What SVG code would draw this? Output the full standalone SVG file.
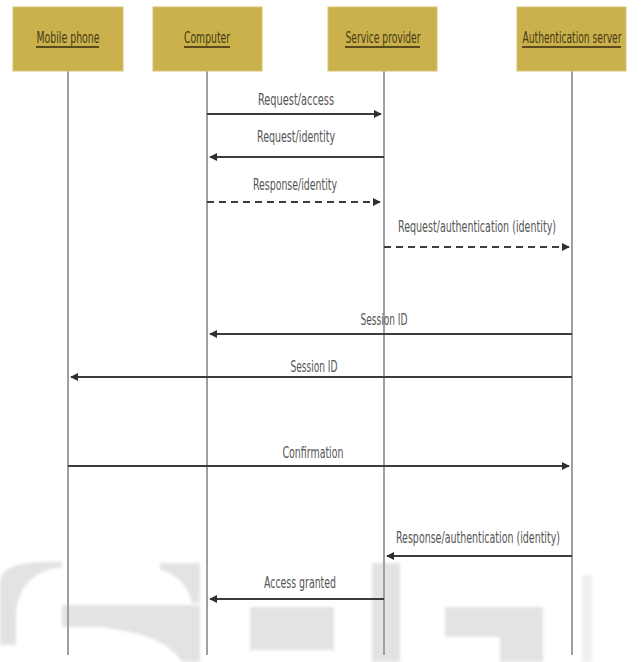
<svg xmlns="http://www.w3.org/2000/svg" width="643" height="662" viewBox="0 0 643 662">
  <defs>
    <style>
      .box { fill: #CAB14B; stroke: #D6C277; stroke-width: 1; }
      .hdr { font-family: "Liberation Sans Narrow", "DejaVu Sans Condensed", "Liberation Sans", sans-serif; font-stretch: condensed; font-size: 16px; fill: #463B18; text-anchor: middle; }
      .uline { stroke: #5A4B1E; stroke-width: 2; }
      .life { stroke: #A0A0A0; stroke-width: 2; fill: none; }
      .msg { stroke: #3C3C3C; stroke-width: 2; fill: none; }
      .dash { stroke-dasharray: 7 5; }
      .lbl { font-family: "Liberation Sans Narrow", "DejaVu Sans Condensed", "Liberation Sans", sans-serif; font-stretch: condensed; font-size: 15px; fill: #555555; text-anchor: middle; }
      .wm { fill: #E3E3E3; }
    </style>
    <filter id="soft" x="-10%" y="-10%" width="120%" height="120%">
      <feGaussianBlur stdDeviation="1.5"/>
    </filter>
    <marker id="ah" viewBox="0 0 10 10" refX="9" refY="5" markerWidth="8" markerHeight="8" markerUnits="userSpaceOnUse" orient="auto">
      <path d="M0,0 L10,5 L0,10 Z" fill="#2E2E2E"/>
    </marker>
  </defs>

  <rect x="0" y="0" width="643" height="662" fill="#FFFFFF"/>

  <!-- faint background watermark -->
  <g id="watermark" filter="url(#soft)">
    <path class="wm" d="M0 580 Q4 563 40 562 L62 562 L62 567 Q20 572 16 612 L16 645 L0 645 Z"/>
    <path class="wm" d="M160 563 L200 563 L200 603 L192 603 Q186 578 160 569 Z"/>
    <rect class="wm" x="62" y="605" width="138" height="22"/>
    <path class="wm" d="M100 627 L200 627 L200 662 L182 662 Q168 640 130 632 Z"/>
    <rect class="wm" x="250" y="607" width="84" height="43"/>
    <rect class="wm" x="372" y="563" width="28" height="99"/>
    <rect class="wm" x="445" y="607" width="98" height="30"/>
    <rect class="wm" x="500" y="637" width="43" height="25"/>
    <rect x="582" y="575" width="10" height="87" fill="#F0F0F0"/>
  </g>

  <!-- lifelines -->
  <g id="lifelines">
    <line class="life" x1="68" y1="71" x2="68" y2="655"/>
    <line class="life" x1="207" y1="71" x2="207" y2="655"/>
    <line class="life" x1="384" y1="71" x2="384" y2="655"/>
    <line class="life" x1="572" y1="71" x2="572" y2="655"/>
  </g>

  <g id="mobile-phone">
    <rect class="box" x="13" y="7" width="110" height="64"/>
    <text class="hdr" x="68" y="43" textLength="63" lengthAdjust="spacingAndGlyphs">Mobile phone</text>
    <line class="uline" x1="36" y1="47" x2="99" y2="47"/>
  </g>
  <g id="computer">
    <rect class="box" x="153" y="7" width="109" height="64"/>
    <text class="hdr" x="207" y="43" textLength="46" lengthAdjust="spacingAndGlyphs">Computer</text>
    <line class="uline" x1="184" y1="47" x2="230" y2="47"/>
  </g>
  <g id="service-provider">
    <rect class="box" x="328" y="7" width="109" height="64"/>
    <text class="hdr" x="383" y="43" textLength="75" lengthAdjust="spacingAndGlyphs">Service provider</text>
    <line class="uline" x1="345" y1="47" x2="420" y2="47"/>
  </g>
  <g id="authentication-server">
    <rect class="box" x="517" y="7" width="109" height="64"/>
    <text class="hdr" x="572" y="43" textLength="99" lengthAdjust="spacingAndGlyphs">Authentication server</text>
    <line class="uline" x1="522" y1="47" x2="621" y2="47"/>
  </g>

  <!-- connectors -->
  <g id="connectors">
    <line class="msg" x1="207" y1="114" x2="381" y2="114" marker-end="url(#ah)"/>
    <line class="msg" x1="384" y1="157" x2="210" y2="157" marker-end="url(#ah)"/>
    <line class="msg dash" x1="207" y1="202" x2="380" y2="202" marker-end="url(#ah)"/>
    <line class="msg dash" x1="384" y1="247" x2="569" y2="247" marker-end="url(#ah)"/>
    <line class="msg" x1="572" y1="334" x2="210" y2="334" marker-end="url(#ah)"/>
    <line class="msg" x1="572" y1="377" x2="71" y2="377" marker-end="url(#ah)"/>
    <line class="msg" x1="68" y1="466" x2="569" y2="466" marker-end="url(#ah)"/>
    <line class="msg" x1="572" y1="556" x2="387" y2="556" marker-end="url(#ah)"/>
    <line class="msg" x1="384" y1="599" x2="210" y2="599" marker-end="url(#ah)"/>
  </g>

  <g id="labels">
    <text class="lbl" x="296" y="105" textLength="76" lengthAdjust="spacingAndGlyphs">Request/access</text>
    <text class="lbl" x="296" y="142" textLength="78" lengthAdjust="spacingAndGlyphs">Request/identity</text>
    <text class="lbl" x="295" y="190" textLength="84" lengthAdjust="spacingAndGlyphs">Response/identity</text>
    <text class="lbl" x="477" y="232" textLength="158" lengthAdjust="spacingAndGlyphs">Request/authentication (identity)</text>
    <text class="lbl" x="384" y="325" textLength="47" lengthAdjust="spacingAndGlyphs">Session ID</text>
    <text class="lbl" x="314" y="372" textLength="47" lengthAdjust="spacingAndGlyphs">Session ID</text>
    <text class="lbl" x="313" y="458" textLength="61" lengthAdjust="spacingAndGlyphs">Confirmation</text>
    <text class="lbl" x="478" y="543" textLength="164" lengthAdjust="spacingAndGlyphs">Response/authentication (identity)</text>
    <text class="lbl" x="300" y="588" textLength="72" lengthAdjust="spacingAndGlyphs">Access granted</text>
  </g>
</svg>
